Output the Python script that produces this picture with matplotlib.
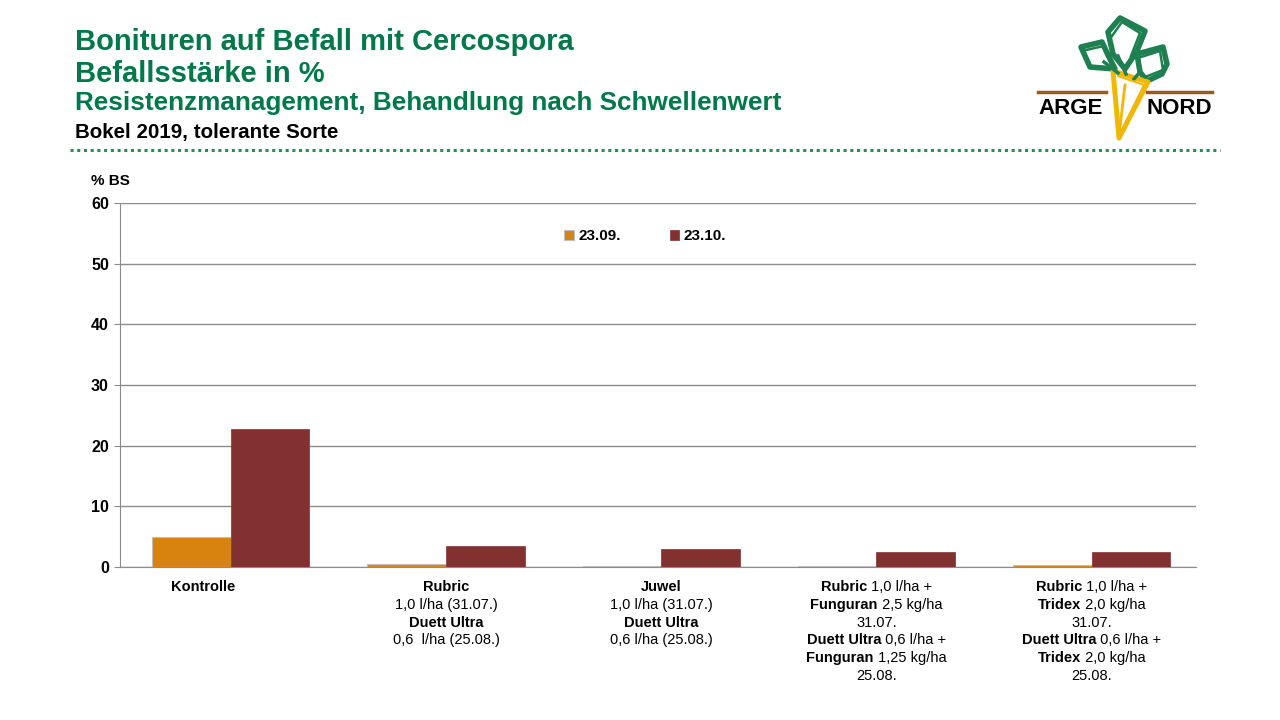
import numpy as np
import matplotlib.pyplot as plt
from matplotlib.patches import Polygon

plt.rcParams['font.family'] = ['Liberation Sans', 'DejaVu Sans']

# data
categories = ['Kontrolle', 'Rubric', 'Juwel', 'Rubric+Funguran', 'Rubric+Tridex']
s1_name, s2_name = '23.09.', '23.10.'
s1 = [4.9, 0.5, 0.1, 0.1, 0.3]
s2 = [22.8, 3.5, 3.0, 2.5, 2.5]
yticks = [0, 10, 20, 30, 40, 50, 60]

# label lines: (text, bold) segments
labels = [
    [[('Kontrolle', True)]],
    [[('Rubric', True)], [('1,0 l/ha (31.07.)', False)],
     [('Duett Ultra', True)], [('0,6  l/ha (25.08.)', False)]],
    [[('Juwel', True)], [('1,0 l/ha (31.07.)', False)],
     [('Duett Ultra', True)], [('0,6 l/ha (25.08.)', False)]],
    [[('Rubric', True), (' 1,0 l/ha +', False)],
     [('Funguran', True), (' 2,5 kg/ha', False)],
     [('31.07.', False)],
     [('Duett Ultra', True), (' 0,6 l/ha +', False)],
     [('Funguran', True), (' 1,25 kg/ha', False)],
     [('25.08.', False)]],
    [[('Rubric', True), (' 1,0 l/ha +', False)],
     [('Tridex', True), (' 2,0 kg/ha', False)],
     [('31.07.', False)],
     [('Duett Ultra', True), (' 0,6 l/ha +', False)],
     [('Tridex', True), (' 2,0 kg/ha', False)],
     [('25.08.', False)]],
]
label_shift = [-0.13, 0, 0, 0, 0]

c1 = '#D8820F'
c2 = '#833030'
green = '#00784A'
grid = '#8C8C8C'

fig = plt.figure(figsize=(12.8, 7.2), dpi=100)
deco = fig.add_axes([0, 0, 1, 1], zorder=0)
deco.set_xlim(0, 1280)
deco.set_ylim(720, 0)
deco.axis('off')

ax = fig.add_axes([120 / 1280, 1 - 567 / 720, 1076 / 1280, 364 / 720], zorder=1)
ax.patch.set_alpha(0)

x = np.arange(len(categories))
w = 0.365
off = 0.015
ax.bar(x - w / 2 + off, s1, w, color=c1, edgecolor='#BFBFBF', linewidth=0.8,
       label=s1_name, zorder=3)
ax.bar(x + w / 2 + off, s2, w, color=c2, edgecolor=c2, linewidth=0.5,
       label=s2_name, zorder=3)

ax.set_xlim(-0.5, len(categories) - 0.5)
ax.set_ylim(0, 60)
ax.set_yticks(yticks)
ax.set_xticks([])
ax.yaxis.grid(True, color=grid, linewidth=1)
ax.set_axisbelow(True)
for s in ['top', 'right']:
    ax.spines[s].set_visible(False)
ax.spines['left'].set_color(grid)
ax.spines['bottom'].set_color(grid)
ax.tick_params(axis='y', length=4, color=grid, pad=4, labelsize=11.5)
for t in ax.get_yticklabels():
    t.set_fontweight('bold')

ax.text(-0.009, 1.06, '% BS', transform=ax.transAxes, fontsize=11,
        fontweight='bold', ha='center', va='center')

leg = ax.legend(loc='center', bbox_to_anchor=(0.488, 0.909), ncol=2,
                frameon=False, handlelength=0.6, handleheight=0.6,
                handletextpad=0.3, columnspacing=3.2,
                prop={'weight': 'bold', 'size': 11})

# category labels below axis
renderer = fig.canvas.get_renderer()
fs = 10.5
for i, lines in enumerate(labels):
    xd = ax.transData.transform((i + off + label_shift[i], 0))[0]
    for k, line in enumerate(lines):
        yb = 591 + k * 17.8
        texts = []
        for txt, b in line:
            t = deco.text(0, yb, txt, fontsize=fs,
                          fontweight='bold' if b else 'normal',
                          ha='left', va='baseline')
            texts.append(t)
        widths = [t.get_window_extent(renderer).width for t in texts]
        x0 = xd - sum(widths) / 2
        for t, wd in zip(texts, widths):
            t.set_x(x0)
            x0 += wd

# titles
deco.text(75, 50, 'Bonituren auf Befall mit Cercospora', color=green,
          fontsize=21, fontweight='bold', va='baseline')
deco.text(75, 82, 'Befallsstärke in %', color=green,
          fontsize=21, fontweight='bold', va='baseline')
deco.text(75, 110, 'Resistenzmanagement, Behandlung nach Schwellenwert',
          color=green, fontsize=18.8, fontweight='bold', va='baseline')
deco.text(75, 138, 'Bokel 2019, tolerante Sorte', color='black',
          fontsize=14.8, fontweight='bold', va='baseline')
deco.plot([70, 1220], [150, 150], color='#2E8B57', linewidth=2.2,
          linestyle=(0, (1, 1.2)))

# logo
lg = '#1E8050'
leaves = [
    [(1081, 47), (1102, 42), (1108, 55), (1115, 69), (1090, 67)],
    [(1108, 32), (1120, 18), (1145, 31), (1137, 51), (1125, 69), (1113, 54)],
    [(1137, 54), (1163, 47), (1167, 64), (1162, 74), (1147, 81), (1140, 72)],
]
for pts in leaves:
    deco.add_patch(Polygon(pts, closed=True, fill=False, edgecolor=lg,
                           linewidth=4, joinstyle='round'))
# sketchy inner strokes
deco.plot([1086, 1104, 1112], [50, 46, 66], color=lg, lw=1.8)
deco.plot([1112, 1122, 1140, 1131], [36, 22, 33, 56], color=lg, lw=1.8)
deco.plot([1141, 1160, 1163, 1145], [57, 51, 70, 77], color=lg, lw=1.8)
deco.plot([1104, 1118], [62, 73], color=lg, lw=2.5)
deco.plot([1118, 1126], [56, 74], color=lg, lw=2.5)
deco.plot([1140, 1134], [72, 79], color=lg, lw=2.5)
deco.plot([1038, 1106], [92, 92], color='#9B5A1A', lw=2.5)
deco.plot([1147, 1212], [92, 92], color='#9B5A1A', lw=2.5)
deco.add_patch(Polygon([(1113, 71), (1148, 82), (1119, 138)], closed=True,
                       fill=False, edgecolor='#F2B705', linewidth=3.6,
                       joinstyle='round'))
deco.plot([1118, 1144, 1121], [76, 85, 132], color='#F2B705', lw=1.5)
deco.plot([1125, 1122, 1119], [85, 110, 136], color='#F2B705', lw=2)
deco.text(1071, 109, 'ARGE', fontsize=16, fontweight='heavy', ha='center',
          va='center', color='black')
deco.text(1179, 109, 'NORD', fontsize=16, fontweight='heavy', ha='center',
          va='center', color='black')

fig.savefig('out.png', dpi=100)
